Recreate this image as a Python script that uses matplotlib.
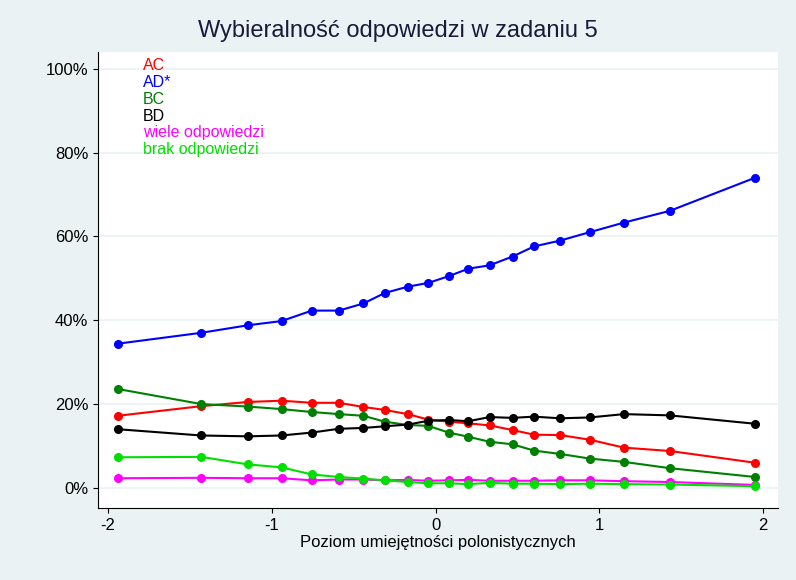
import matplotlib.pyplot as plt
from matplotlib.ticker import PercentFormatter

plt.rcParams["font.family"] = "Liberation Sans"
plt.rcParams["axes.unicode_minus"] = False

# ability level (x) and percent choosing each answer
x = [-1.94, -1.43, -1.145, -0.94, -0.755, -0.59, -0.44, -0.31, -0.17, -0.045,
     0.08, 0.20, 0.33, 0.47, 0.60, 0.76, 0.94, 1.15, 1.43, 1.95]
ac = [17.2, 19.5, 20.5, 20.8, 20.3, 20.3, 19.3, 18.6, 17.6, 16.3,
      15.8, 15.4, 14.9, 13.8, 12.7, 12.6, 11.5, 9.6, 8.8, 6.0]
ad = [34.4, 37.0, 38.8, 39.8, 42.3, 42.3, 44.0, 46.5, 48.0, 48.9,
      50.5, 52.3, 53.1, 55.2, 57.6, 59.0, 61.0, 63.3, 66.1, 74.0]
bc = [23.6, 20.0, 19.4, 18.8, 18.1, 17.6, 17.2, 15.8, 15.0, 14.8,
      13.2, 12.2, 11.0, 10.4, 8.9, 8.1, 7.0, 6.2, 4.7, 2.6]
bd = [14.0, 12.5, 12.3, 12.5, 13.2, 14.1, 14.3, 14.7, 15.1, 16.0,
      16.2, 15.9, 16.9, 16.7, 17.0, 16.6, 16.8, 17.6, 17.3, 15.3]
wiele = [2.3, 2.4, 2.3, 2.3, 1.8, 2.0, 2.0, 1.8, 1.9, 1.7,
         1.8, 1.9, 1.7, 1.7, 1.7, 1.8, 1.8, 1.6, 1.4, 0.7]
brak = [7.3, 7.4, 5.6, 4.9, 3.2, 2.6, 2.2, 1.8, 1.4, 1.1,
        1.1, 0.9, 1.2, 1.0, 1.0, 0.9, 1.0, 0.9, 0.8, 0.4]

series = [("AC", ac, "#ff0000"), ("AD*", ad, "#0000ff"), ("BC", bc, "#008000"),
          ("BD", bd, "#000000"), ("wiele odpowiedzi", wiele, "#ff00ff"),
          ("brak odpowiedzi", brak, "#00e000")]

fig = plt.figure(figsize=(7.96, 5.80), dpi=100, facecolor="#eaf2f3")
ax = fig.add_axes([98 / 796, 72 / 580, 680 / 796, 456 / 580])
ax.set_facecolor("white")

for name, vals, col in series:
    ax.plot(x, vals, color=col, marker="o", markersize=5.5, linewidth=1.5)

ax.set_xlim(-2.06, 2.09)
ax.set_ylim(-4.8, 104)
ax.set_xticks([-2, -1, 0, 1, 2])
ax.set_yticks([0, 20, 40, 60, 80, 100])
ax.yaxis.set_major_formatter(PercentFormatter(decimals=0))
ax.grid(axis="y", color="#eaf2f3", linewidth=1.2)
ax.set_axisbelow(True)
for s in ["top", "right"]:
    ax.spines[s].set_visible(False)
ax.tick_params(labelsize=12)
ax.set_xlabel("Poziom umiejętności polonistycznych", fontsize=12, labelpad=2)
fig.suptitle("Wybieralność odpowiedzi w zadaniu 5", fontsize=17, y=0.965,
             color="#1a1a3a")

# coloured text legend
for i, (name, vals, col) in enumerate(series):
    ax.text(0.066, 0.987 - i * 0.037, name, color=col, fontsize=11.5,
            transform=ax.transAxes, va="top")

fig.savefig("out.png", dpi=100, facecolor=fig.get_facecolor())
